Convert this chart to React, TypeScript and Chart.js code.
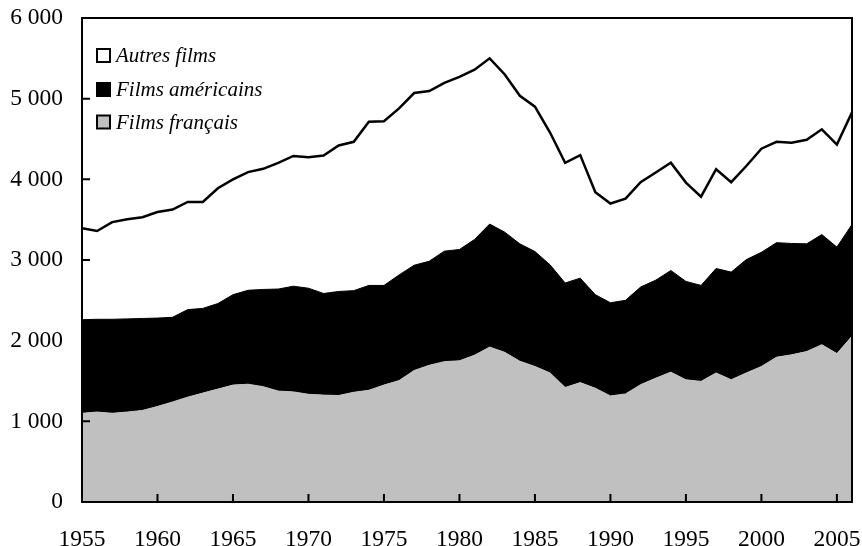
import React, { useEffect, useRef } from "react";
import { Chart, registerables } from "chart.js";

Chart.register(...registerables);

const years: number[] = [
  1955, 1956, 1957, 1958, 1959, 1960, 1961, 1962, 1963, 1964,
  1965, 1966, 1967, 1968, 1969, 1970, 1971, 1972, 1973, 1974,
  1975, 1976, 1977, 1978, 1979, 1980, 1981, 1982, 1983, 1984,
  1985, 1986, 1987, 1988, 1989, 1990, 1991, 1992, 1993, 1994,
  1995, 1996, 1997, 1998, 1999, 2000, 2001, 2002, 2003, 2004,
  2005, 2006,
];

const filmsFrancais: number[] = [
  1100, 1115, 1100, 1115, 1135, 1185, 1240, 1300, 1350, 1400,
  1450, 1460, 1430, 1375, 1365, 1335, 1325, 1320, 1360, 1385,
  1450, 1505, 1630, 1695, 1740, 1750, 1820, 1920, 1855, 1745,
  1680, 1600, 1420, 1480, 1410, 1315, 1340, 1455, 1535, 1610,
  1515, 1495, 1600, 1515, 1600, 1680, 1795, 1825, 1865, 1950,
  1840, 2055,
];

const filmsAmericains: number[] = [
  1160, 1150, 1165, 1155, 1140, 1095, 1050, 1085, 1050, 1060,
  1120, 1165, 1205, 1265, 1310, 1315, 1260, 1290, 1260, 1300,
  1235, 1310, 1305, 1290, 1370, 1380, 1435, 1525, 1490, 1455,
  1425, 1340, 1295, 1295, 1160, 1155, 1160, 1210, 1215, 1260,
  1220, 1190, 1295, 1335, 1405, 1415, 1420, 1380, 1335, 1365,
  1320, 1385,
];

const autresFilms: number[] = [
  1135, 1095, 1205, 1235, 1255, 1315, 1335, 1335, 1320, 1430,
  1430, 1465, 1495, 1565, 1615, 1625, 1710, 1810, 1845, 2030,
  2035, 2065, 2135, 2110, 2085, 2140, 2105, 2055, 1955, 1835,
  1795, 1640, 1490, 1525, 1270, 1230, 1260, 1300, 1335, 1335,
  1225, 1100, 1230, 1115, 1160, 1285, 1250, 1250, 1290, 1305,
  1270, 1390,
];

const seriesLabels: string[] = ["Films français", "Films américains", "Autres films"];
const yTicks: number[] = [0, 1000, 2000, 3000, 4000, 5000, 6000];
const xTicks: number[] = [1955, 1960, 1965, 1970, 1975, 1980, 1985, 1990, 1995, 2000, 2005];

const SERIF = "'Liberation Serif', 'Times New Roman', serif";

const framePlugin = {
  id: "frameTicks",
  afterDatasetsDraw(chart: any) {
    const { ctx, chartArea, scales } = chart;
    const { left, right, top, bottom } = chartArea;
    ctx.save();
    ctx.strokeStyle = "#000";
    ctx.lineWidth = 2;
    ctx.beginPath();
    ctx.rect(left, top, right - left, bottom - top);
    ctx.stroke();
    const tl = 8;
    ctx.beginPath();
    for (const v of yTicks) {
      const y = scales.y.getPixelForValue(v);
      ctx.moveTo(left, y);
      ctx.lineTo(left + tl, y);
    }
    for (const v of xTicks) {
      const x = scales.x.getPixelForValue(v);
      ctx.moveTo(x, bottom);
      ctx.lineTo(x, bottom - tl);
    }
    ctx.stroke();
    ctx.restore();
  },
};

const legendPlugin = {
  id: "customLegend",
  afterDraw(chart: any) {
    const { ctx, chartArea } = chart;
    const items = [
      { label: seriesLabels[2], fill: "#ffffff" },
      { label: seriesLabels[1], fill: "#000000" },
      { label: seriesLabels[0], fill: "#c0c0c0" },
    ];
    const x0 = chartArea.left + 15;
    const ys = [55.5, 89.5, 122];
    ctx.save();
    items.forEach((it, i) => {
      const cy = ys[i];
      const s = 13;
      ctx.fillStyle = it.fill;
      ctx.fillRect(x0, cy - s / 2, s, s);
      ctx.strokeStyle = "#000";
      ctx.lineWidth = 2;
      ctx.strokeRect(x0, cy - s / 2, s, s);
      ctx.fillStyle = "#000";
      ctx.font = `italic 21px ${SERIF}`;
      ctx.textBaseline = "middle";
      ctx.textAlign = "left";
      ctx.fillText(it.label, x0 + s + 6, cy + 1);
    });
    ctx.restore();
  },
};

export default function App() {
  const ref = useRef<HTMLCanvasElement | null>(null);

  useEffect(() => {
    if (!ref.current) return;
    const mk = (vals: number[]) => years.map((y, i) => ({ x: y, y: vals[i] }));
    const chart = new Chart(ref.current, {
      type: "line",
      data: {
        datasets: [
          {
            label: seriesLabels[0],
            data: mk(filmsFrancais),
            fill: "origin",
            backgroundColor: "#c0c0c0",
            borderColor: "#c0c0c0",
            borderWidth: 1,
            pointRadius: 0,
            tension: 0,
          },
          {
            label: seriesLabels[1],
            data: mk(filmsAmericains),
            fill: "-1",
            backgroundColor: "#000000",
            borderColor: "#000000",
            borderWidth: 1,
            pointRadius: 0,
            tension: 0,
          },
          {
            label: seriesLabels[2],
            data: mk(autresFilms),
            fill: "-1",
            backgroundColor: "#ffffff",
            borderColor: "#000000",
            borderWidth: 2.5,
            pointRadius: 0,
            tension: 0,
          },
        ],
      },
      options: {
        responsive: false,
        animation: false,
        layout: { padding: { top: 18, right: 10, left: 0, bottom: 0 } },
        plugins: {
          legend: { display: false },
          tooltip: { enabled: false },
        },
        scales: {
          x: {
            type: "linear",
            min: 1955,
            max: 2006,
            grid: { display: false, drawTicks: false },
            border: { display: false },
            afterFit: (s: any) => {
              s.height = 44;
              s.paddingLeft = 0;
              s.paddingRight = 0;
            },
            afterBuildTicks: (s: any) => {
              s.ticks = xTicks.map((v) => ({ value: v }));
            },
            ticks: {
              padding: 24,
              color: "#000",
              font: { family: SERIF, size: 23.5 },
              maxRotation: 0,
              autoSkip: false,
              callback: (v: any) => String(v),
            },
          },
          y: {
            stacked: true,
            min: 0,
            max: 6000,
            grid: { display: false, drawTicks: false },
            border: { display: false },
            afterFit: (s: any) => {
              s.width = 82;
              s.paddingTop = 0;
              s.paddingBottom = 0;
            },
            afterBuildTicks: (s: any) => {
              s.ticks = yTicks.map((v) => ({ value: v }));
            },
            ticks: {
              padding: 19,
              color: "#000",
              font: { family: SERIF, size: 23.5 },
              callback: (v: any) => (v === 0 ? "0" : `${v / 1000} 000`),
            },
          },
        },
      },
      plugins: [framePlugin, legendPlugin],
    });
    return () => chart.destroy();
  }, []);

  return (
    <div style={{ position: "fixed", left: 0, top: 0, width: 862, height: 546, background: "#fff" }}>
      <canvas ref={ref} width={862} height={546} style={{ width: 862, height: 546 }} />
    </div>
  );
}
